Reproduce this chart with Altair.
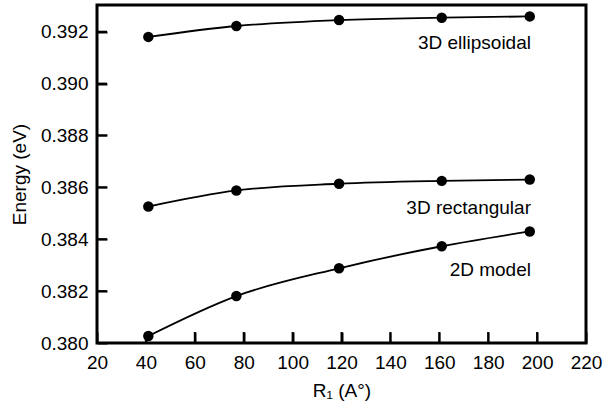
import altair as alt
import pandas as pd

radius = [41, 77, 119, 161, 197]
ellipsoidal = [0.39180, 0.39222, 0.39245, 0.39254, 0.39259]
rectangular = [0.38526, 0.38588, 0.38614, 0.38625, 0.38630]
model2d = [0.38027, 0.38181, 0.38288, 0.38373, 0.38430]

series_names = ["3D ellipsoidal", "3D rectangular", "2D model"]
label_x = [197.5, 197.5, 197.5]
label_y = [0.39134, 0.38499, 0.38260]

x_ticks = [20, 40, 60, 80, 100, 120, 140, 160, 180, 200, 220]
y_ticks = [0.380, 0.382, 0.384, 0.386, 0.388, 0.390, 0.392]
x_min, x_max = 20, 220
y_min, y_max = 0.380, 0.39303

rows = []
for name, vals in zip(series_names, [ellipsoidal, rectangular, model2d]):
    for r, v in zip(radius, vals):
        rows.append({"series": name, "R": r, "E": v})
df = pd.DataFrame(rows)
labels = pd.DataFrame({"series": series_names, "x": label_x, "y": label_y})
xt = pd.DataFrame({"xt": x_ticks})
yt = pd.DataFrame({"yt": y_ticks})

W, H = 489, 338
FONT = "Liberation Sans"
FS = 19
TICK_X = 11
TICK_Y = 10
# tick lengths expressed in data units of each scale
tick_len_y = (y_max - y_min) * TICK_X / H
tick_len_x = (x_max - x_min) * TICK_Y / W

xscale = alt.Scale(domain=[x_min, x_max], nice=False, zero=False)
yscale = alt.Scale(domain=[y_min, y_max], nice=False, zero=False)

xaxis = alt.Axis(values=x_ticks, format="d", tickSize=TICK_X, offset=-TICK_X,
                 tickColor="black", tickWidth=2, domain=False, grid=False,
                 labelFlush=False, labelOverlap=False,
                 labelFontSize=FS, labelFont=FONT, labelColor="black", labelPadding=10,
                 title="R₁ (A°)", titleFontSize=FS, titleFont=FONT, titleColor="black",
                 titleFontWeight="normal", titlePadding=9)
yaxis = alt.Axis(values=y_ticks, format=".3f", tickSize=TICK_Y, offset=-TICK_Y,
                 tickColor="black", tickWidth=2, domain=False, grid=False,
                 labelFlush=False, labelOverlap=False,
                 labelFontSize=FS, labelFont=FONT, labelColor="black", labelPadding=9,
                 title="Energy (eV)", titleFontSize=FS, titleFont=FONT, titleColor="black",
                 titleFontWeight="normal", titlePadding=11)

lines = alt.Chart(df).mark_line(color="black", strokeWidth=1.8, interpolate="monotone").encode(
    x=alt.X("R:Q", scale=xscale, axis=xaxis),
    y=alt.Y("E:Q", scale=yscale, axis=yaxis),
    detail="series:N",
)
points = alt.Chart(df).mark_circle(color="black", opacity=1, size=110).encode(
    x=alt.X("R:Q", scale=xscale),
    y=alt.Y("E:Q", scale=yscale),
)
text = alt.Chart(labels).mark_text(align="right", baseline="alphabetic", fontSize=FS,
                                    font=FONT, color="black").encode(
    x=alt.X("x:Q", scale=xscale),
    y=alt.Y("y:Q", scale=yscale),
    text="series:N",
)
xtick_marks = alt.Chart(xt).mark_rule(color="black", strokeWidth=2).encode(
    x=alt.X("xt:Q", scale=xscale),
    y=alt.Y(datum=y_min, scale=yscale),
    y2=alt.Y2(datum=y_min + tick_len_y),
)
ytick_marks = alt.Chart(yt).mark_rule(color="black", strokeWidth=2).encode(
    y=alt.Y("yt:Q", scale=yscale),
    x=alt.X(datum=x_min, scale=xscale),
    x2=alt.X2(datum=x_min + tick_len_x),
)

chart = alt.layer(lines, points, text, xtick_marks, ytick_marks).properties(
    width=W, height=H,
    autosize=alt.AutoSizeParams(type="none"),
    padding={"left": 97, "top": 5, "right": 25, "bottom": 65},
    background="white",
).configure_view(stroke="black", strokeWidth=3)

chart.save("out.html", embed_options={"renderer": "svg", "actions": False})
